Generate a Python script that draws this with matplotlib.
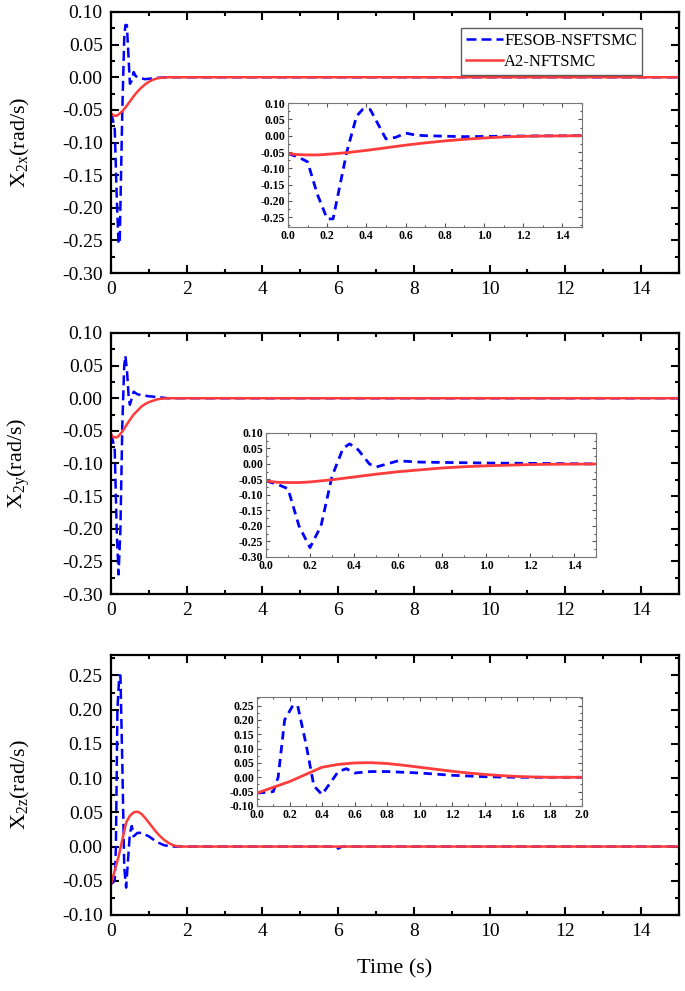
import matplotlib
matplotlib.use("Agg")
import matplotlib.pyplot as plt
from matplotlib.ticker import MultipleLocator, FormatStrFormatter

plt.rcParams['font.family'] = ['Liberation Serif', 'DejaVu Serif']
plt.rcParams['mathtext.fontset'] = 'custom'
plt.rcParams['mathtext.rm'] = 'Liberation Serif'
plt.rcParams['mathtext.it'] = 'Liberation Serif:italic'

# X2x
t_b1 = [0.0, 0.05, 0.1, 0.15, 0.2, 0.23, 0.3, 0.35, 0.38, 0.42, 0.5, 0.55, 0.6, 0.65, 0.7, 0.9, 1.2, 1.5, 15]
v_b1 = [-0.055, -0.065, -0.08, -0.18, -0.255, -0.255, -0.05, 0.06, 0.08, 0.08, -0.01, -0.005, 0.008, 0.002, 0.0, -0.003, -0.001, 0.0, 0.0]
t_r1 = [0.0, 0.05, 0.1, 0.15, 0.2, 0.3, 0.4, 0.5, 0.6, 0.7, 0.8, 0.9, 1.0, 1.1, 1.2, 1.3, 1.5, 15]
v_r1 = [-0.055, -0.058, -0.059, -0.059, -0.057, -0.052, -0.045, -0.037, -0.029, -0.022, -0.016, -0.011, -0.007, -0.004, -0.002, -0.001, 0.0, 0.0]

# X2y
t_b2 = [0.0, 0.05, 0.1, 0.15, 0.2, 0.25, 0.3, 0.35, 0.38, 0.42, 0.47, 0.5, 0.55, 0.6, 0.7, 0.8, 1.0, 1.2, 1.5, 15]
v_b2 = [-0.055, -0.065, -0.08, -0.2, -0.27, -0.2, -0.04, 0.05, 0.065, 0.045, 0.0, -0.01, 0.0, 0.01, 0.006, 0.005, 0.003, 0.002, 0.0, 0.0]
t_r2 = [0.0, 0.05, 0.1, 0.15, 0.2, 0.3, 0.4, 0.5, 0.6, 0.7, 0.8, 0.9, 1.0, 1.1, 1.2, 1.3, 1.5, 15]
v_r2 = [-0.055, -0.059, -0.06, -0.06, -0.058, -0.051, -0.042, -0.033, -0.025, -0.019, -0.013, -0.009, -0.006, -0.004, -0.002, -0.001, 0.0, 0.0]

# X2z
t_b3 = [0.0, 0.1, 0.13, 0.17, 0.22, 0.25, 0.3, 0.35, 0.4, 0.45, 0.5, 0.55, 0.6, 0.7, 0.8, 1.0, 1.2, 1.4, 1.6, 2.0, 5.95, 6.0, 6.1, 15]
v_b3 = [-0.055, -0.05, 0.0, 0.2, 0.25, 0.25, 0.12, -0.03, -0.06, -0.02, 0.02, 0.03, 0.015, 0.02, 0.02, 0.015, 0.007, 0.002, 0.0, 0.0, 0.0, -0.003, 0.0, 0.0]
t_r3 = [0.0, 0.1, 0.2, 0.3, 0.4, 0.5, 0.6, 0.7, 0.8, 0.9, 1.0, 1.1, 1.2, 1.3, 1.4, 1.5, 1.6, 1.7, 1.8, 15]
v_r3 = [-0.055, -0.035, -0.015, 0.01, 0.035, 0.045, 0.05, 0.051, 0.048, 0.042, 0.035, 0.028, 0.021, 0.015, 0.01, 0.006, 0.003, 0.001, 0.0, 0.0]

BLUE = "#0000ff"
RED = "#ff3b3b"

fig = plt.figure(figsize=(6.85, 9.91), dpi=100)

main_pos = [[0.162, 0.7245, 0.829, 0.2634],
            [0.162, 0.4006, 0.829, 0.2634],
            [0.162, 0.0767, 0.829, 0.2624]]
inset_pos = [[0.4204, 0.7709, 0.4292, 0.1251],
             [0.3883, 0.4380, 0.4818, 0.1251],
             [0.3752, 0.1867, 0.4745, 0.1100]]
ylims = [(-0.30, 0.10), (-0.30, 0.10), (-0.10, 0.28)]
ylims_in = [(-0.28, 0.10), (-0.30, 0.10), (-0.10, 0.28)]
xlims_in = [1.5, 1.5, 2.0]
ylabels = [r"$\mathrm{X_{2x}}$(rad/s)", r"$\mathrm{X_{2y}}$(rad/s)", r"$\mathrm{X_{2z}}$(rad/s)"]
data = [(t_b1, v_b1, t_r1, v_r1), (t_b2, v_b2, t_r2, v_r2), (t_b3, v_b3, t_r3, v_r3)]

for i in range(3):
    tb, vb, tr, vr = data[i]
    ax = fig.add_axes(main_pos[i])
    ax.plot(tb, vb, color=BLUE, lw=1.8, ls=(0, (4, 2)), label="FESOB-NSFTSMC")
    ax.plot(tr, vr, color=RED, lw=1.8, label="A2-NFTSMC")
    ax.set_xlim(0, 15)
    ax.set_ylim(*ylims[i])
    ax.xaxis.set_major_locator(MultipleLocator(2))
    ax.xaxis.set_minor_locator(MultipleLocator(1))
    ax.yaxis.set_major_locator(MultipleLocator(0.05))
    ax.yaxis.set_minor_locator(MultipleLocator(0.025))
    ax.yaxis.set_major_formatter(FormatStrFormatter("%.2f"))
    ax.tick_params(which="both", direction="in", top=True, right=True, width=1.5)
    ax.tick_params(which="major", length=6, labelsize=14, pad=6)
    ax.tick_params(which="minor", length=3)
    for s in ax.spines.values():
        s.set_linewidth(1.6)
    ax.set_ylabel(ylabels[i], fontsize=16)
    ax.yaxis.set_label_coords(-0.139, 0.5)
    if i == 0:
        leg = ax.legend(loc="upper right", bbox_to_anchor=(0.935, 0.94), borderaxespad=0,
                        fontsize=12, fancybox=False, handlelength=2.2, handletextpad=0.1,
                        borderpad=0.3, labelspacing=0.3)
        leg.get_frame().set_edgecolor("#333333")
        leg.get_frame().set_linewidth(1.0)
    if i == 2:
        ax.set_xlabel("Time (s)", fontsize=16)
        ax.xaxis.set_label_coords(0.5, -0.17)

    axi = fig.add_axes(inset_pos[i])
    axi.plot(tb, vb, color=BLUE, lw=2.0, ls=(0, (3, 2)))
    axi.plot(tr, vr, color=RED, lw=2.0)
    axi.set_xlim(0, xlims_in[i])
    axi.set_ylim(*ylims_in[i])
    axi.xaxis.set_major_locator(MultipleLocator(0.2))
    axi.xaxis.set_minor_locator(MultipleLocator(0.1))
    axi.yaxis.set_major_locator(MultipleLocator(0.05))
    axi.yaxis.set_minor_locator(MultipleLocator(0.025))
    axi.xaxis.set_major_formatter(FormatStrFormatter("%.1f"))
    axi.yaxis.set_major_formatter(FormatStrFormatter("%.2f"))
    axi.tick_params(which="both", direction="in", top=True, right=True, width=0.8, color="#555555")
    axi.tick_params(which="major", length=3, labelsize=8.5, pad=2)
    axi.tick_params(which="minor", length=1.5)
    for lab in axi.get_xticklabels() + axi.get_yticklabels():
        lab.set_fontweight("bold")
    for s in axi.spines.values():
        s.set_linewidth(0.8)
        s.set_edgecolor("#777777")

fig.savefig("out.png", dpi=100)
